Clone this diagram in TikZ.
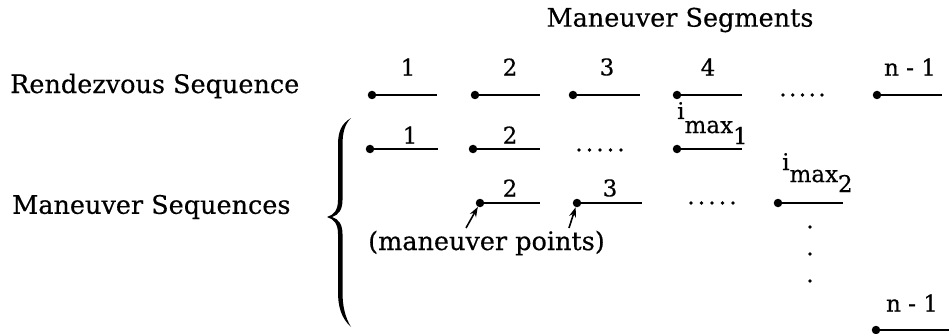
\documentclass[tikz,border=0pt]{standalone}
\usepackage{fontspec}
\setmainfont[FakeBold=0.4]{DejaVu Serif}
\usetikzlibrary{arrows.meta}
\begin{document}
\begin{tikzpicture}[x=1pt,y=-1pt,
  txt/.style={font=\fontsize{25.5}{30}\selectfont, inner sep=0pt},
  lbl/.style={font=\fontsize{23}{27}\selectfont, inner sep=0pt},
  ept/.style={circle, fill=black, inner sep=0pt, minimum size=8.5pt},
  seg/.style={line width=2.2pt},
  dt/.style={circle, fill=black, inner sep=0pt, minimum size=3.6pt},
  ptr/.style={line width=1.6pt, -{Stealth[length=10pt,width=7pt]}}
]
\useasboundingbox (0,0) rectangle (950,334);

% texts
\node[txt] (title) at (680,20) {Maneuver Segments};
\node[txt, anchor=west] (rs) at (10,86) {Rendezvous Sequence};
\node[txt, anchor=west] (ms) at (12,207) {Maneuver Sequences};
\node[txt, anchor=west] (mp) at (368,243) {(maneuver points)};

% brace
\fill (351,118) .. controls (341,124) and (338,132) .. (338,145)
  -- (338,200) .. controls (338,210) and (334,215) .. (327,217)
  .. controls (334,219) and (338,224) .. (338,234)
  -- (338,292) .. controls (338,306) and (341,318) .. (351,327)
  .. controls (345,317) and (342.5,306) .. (342.5,292)
  -- (342.5,234) .. controls (342.5,225) and (339,219) .. (332,217)
  .. controls (339,215) and (342.5,209) .. (342.5,200)
  -- (342.5,145) .. controls (342.5,132) and (345,124) .. (351,118) -- cycle;

% row 1 (rendezvous sequence)
\node[ept] (r1a) at (372,95) {}; \coordinate (r1ae) at (437,95);
\node[ept] (r1b) at (475,95) {}; \coordinate (r1be) at (540,95);
\node[ept] (r1c) at (573,95) {}; \coordinate (r1ce) at (640,95);
\node[ept] (r1d) at (677,95) {}; \coordinate (r1de) at (742,95);
\node[ept] (r1n) at (877,95) {}; \coordinate (r1ne) at (942,95);
\foreach \a/\b in {r1a/r1ae,r1b/r1be,r1c/r1ce,r1d/r1de,r1n/r1ne}
  \draw[seg] (\a.center) -- (\b);
\node[lbl] (l1a) at (408,67) {1};
\node[lbl] (l1b) at (510,67) {2};
\node[lbl] (l1c) at (607,67) {3};
\node[lbl] (l1d) at (708,67) {4};
\node[lbl] (l1n) at (910,67) {n - 1};
\foreach \i in {0,...,4} \node[dt] (d1\i) at (783+\i*9.75,95) {};

% row 2
\node[ept] (r2a) at (370,149) {}; \coordinate (r2ae) at (438,149);
\node[ept] (r2b) at (473,149) {}; \coordinate (r2be) at (540,149);
\node[ept] (r2d) at (677,149) {}; \coordinate (r2de) at (742,149);
\foreach \a/\b in {r2a/r2ae,r2b/r2be,r2d/r2de}
  \draw[seg] (\a.center) -- (\b);
\node[lbl] (l2a) at (410,135) {1};
\node[lbl] (l2b) at (510,135) {2};
\node[lbl, anchor=base west] (im1) at (677,119) {i\raisebox{-14pt}{max\raisebox{-11pt}{1}}};
\foreach \i in {0,...,4} \node[dt] (d2\i) at (579+\i*10.5,150) {};

% row 3
\node[ept] (r3b) at (480,203) {}; \coordinate (r3be) at (540,203);
\node[ept] (r3c) at (577,203) {}; \coordinate (r3ce) at (642,203);
\node[ept] (r3d) at (778,203) {}; \coordinate (r3de) at (843,203);
\foreach \a/\b in {r3b/r3be,r3c/r3ce,r3d/r3de}
  \draw[seg] (\a.center) -- (\b);
\node[lbl] (l3b) at (510,188) {2};
\node[lbl] (l3c) at (610,188) {3};
\node[lbl, anchor=base west] (im2) at (782,170) {i\raisebox{-12pt}{max\raisebox{-10pt}{2}}};
\foreach \i in {0,...,4} \node[dt] (d3\i) at (691+\i*10.5,203) {};

% maneuver point arrows
\coordinate (p1) at (466,228);
\coordinate (p2) at (569,228);
\draw[ptr] (p1) -- (r3b);
\draw[ptr] (p2) -- (r3c);

% vertical dots
\node[dt] (v1) at (810,227) {};
\node[dt] (v2) at (810,254) {};
\node[dt] (v3) at (810,281) {};

% last row
\node[ept] (r4n) at (876,330) {}; \coordinate (r4ne) at (949,330);
\draw[seg] (r4n.center) -- (r4ne);
\node[lbl] (l4n) at (912,303) {n - 1};
\end{tikzpicture}
\end{document}
